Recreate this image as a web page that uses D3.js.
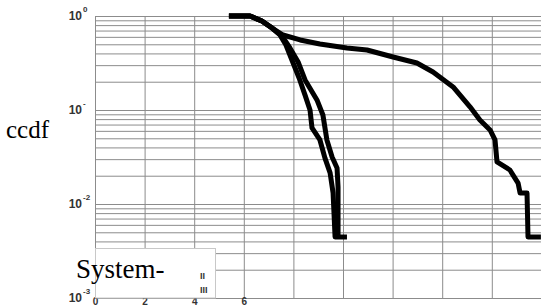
<!DOCTYPE html>
<html>
<head>
<meta charset="utf-8">
<script src="https://cdn.jsdelivr.net/npm/d3@7"></script>
<style>
  html, body { margin: 0; padding: 0; background: #fff; }
  svg { display: block; }
</style>
</head>
<body>
<svg id="chart" width="541" height="308"></svg>
<script>
// ---- data ----
const xTickValues = [0, 2, 4, 6, 8, 10, 12, 14, 16, 18];
const xTickLabels = ["0", "2", "4", "6", "", "", "", "", "", ""];
const yDecades = [1, 0.1, 0.01, 0.001];
const yDecadeSup = ["0", "-", "-2", "-3"];
const legendLabels = ["II", "III"];

// long tail curve
const seriesAx = [5.40, 6.25, 6.73, 7.14, 7.58, 8.27, 9.07, 10.16, 10.97, 12.02, 12.98, 13.63, 14.44, 15.12, 15.52, 15.93, 16.13, 16.21, 16.73, 17.06, 17.14, 17.42, 17.46, 17.98];
const seriesAy = [1, 1, 0.885, 0.745, 0.628, 0.556, 0.504, 0.457, 0.435, 0.366, 0.316, 0.254, 0.176, 0.108, 0.0783, 0.0613, 0.048, 0.028, 0.023, 0.0167, 0.0131, 0.0131, 0.00446, 0.00446];
// steep curve (left)
const seriesBx = [5.40, 6.25, 6.73, 7.14, 7.46, 7.70, 7.94, 8.23, 8.47, 8.67, 8.75, 9.07, 9.27, 9.48, 9.60, 9.68, 10.16];
const seriesBy = [1, 1, 0.885, 0.745, 0.628, 0.491, 0.340, 0.219, 0.144, 0.100, 0.0644, 0.048, 0.0309, 0.0214, 0.0131, 0.00446, 0.00446];
// steep curve (right)
const seriesCx = [5.40, 6.25, 6.73, 7.14, 7.54, 7.86, 8.19, 8.47, 8.95, 9.19, 9.35, 9.56, 9.76, 9.80, 9.80];
const seriesCy = [1, 1, 0.885, 0.745, 0.613, 0.457, 0.324, 0.209, 0.128, 0.0885, 0.048, 0.0316, 0.0242, 0.0152, 0.00446];

// ---- layout ----
const svg = d3.select("#chart");
const mLeft = 95, mTop = 16, mBottom = 298, mRight = 541.4;
const x = d3.scaleLinear().domain([0, 18]).range([mLeft, mRight]);
const y = d3.scaleLog().domain([0.001, 1]).range([mBottom, mTop]);

// minor log grid values
const yGridValues = [];
for (const d of [0.001, 0.01, 0.1]) {
  for (let k = 1; k <= 10; k++) yGridValues.push(+(d * k).toPrecision(3));
}

const gridColor = "#8c8c8c";

// horizontal grid via axisLeft
const gy = svg.append("g").attr("transform", `translate(${mLeft},0)`)
  .call(d3.axisLeft(y).tickValues(yGridValues).tickSize(-(mRight - mLeft)).tickFormat(""));
gy.select(".domain").remove();
gy.selectAll(".tick line").attr("stroke", gridColor).attr("stroke-width", 1);

// vertical grid + x labels via axisBottom
const gx = svg.append("g").attr("transform", `translate(0,${mBottom})`)
  .call(d3.axisBottom(x).tickValues(xTickValues).tickSize(-(mBottom - mTop))
    .tickFormat((d, i) => xTickLabels[i]));
gx.select(".domain").attr("stroke", gridColor);
gx.selectAll(".tick line").attr("stroke", gridColor).attr("stroke-width", 1);
gx.selectAll(".tick text")
  .attr("font-family", "Liberation Sans, Arial, sans-serif")
  .attr("font-weight", "bold").attr("font-size", 10).attr("fill", "#333")
  .attr("y", 0);

// y decade labels via axisLeft
const gyl = svg.append("g").attr("transform", `translate(${mLeft},0)`)
  .call(d3.axisLeft(y).tickValues(yDecades).tickSize(0).tickPadding(13).tickFormat(() => "10"));
gyl.select(".domain").remove();
gyl.selectAll(".tick text")
  .attr("font-family", "Liberation Sans, Arial, sans-serif")
  .attr("font-weight", "bold").attr("font-size", 12).attr("fill", "#333")
  .attr("dy", "0.32em");
gyl.selectAll(".tick").append("text")
  .attr("x", -12).attr("y", -5)
  .attr("text-anchor", "start")
  .attr("font-family", "Liberation Sans, Arial, sans-serif")
  .attr("font-weight", "bold").attr("font-size", 8).attr("fill", "#333")
  .text((d, i) => yDecadeSup[i]);

// legend box
svg.append("rect")
  .attr("x", mLeft + 0.5).attr("y", 248.5).attr("width", 120).attr("height", mBottom - 248.5)
  .attr("fill", "#fff").attr("stroke", "#c8c8c8").attr("stroke-width", 1);
svg.selectAll(".leg").data(legendLabels).enter().append("text")
  .attr("class", "leg")
  .attr("x", 200).attr("y", (d, i) => 279 + i * 14)
  .attr("font-family", "Liberation Sans, Arial, sans-serif")
  .attr("font-weight", "bold").attr("font-size", 9).attr("fill", "#333")
  .text(d => d);

// curves
const line = d3.line().x(d => x(d[0])).y(d => y(d[1]));
const series = [
  d3.zip(seriesAx, seriesAy),
  d3.zip(seriesBx, seriesBy),
  d3.zip(seriesCx, seriesCy)
];
svg.append("g").selectAll("path").data(series).enter().append("path")
  .attr("d", line)
  .attr("fill", "none").attr("stroke", "#000").attr("stroke-width", 5)
  .attr("stroke-linejoin", "round");

// serif annotations
svg.append("text").attr("x", 6).attr("y", 138)
  .attr("font-family", "Liberation Serif, Times New Roman, serif").attr("font-size", 25)
  .attr("fill", "#000").text("ccdf");
svg.append("text").attr("x", 76).attr("y", 278)
  .attr("font-family", "Liberation Serif, Times New Roman, serif").attr("font-size", 27)
  .attr("fill", "#000").text("System-");
</script>
</body>
</html>
